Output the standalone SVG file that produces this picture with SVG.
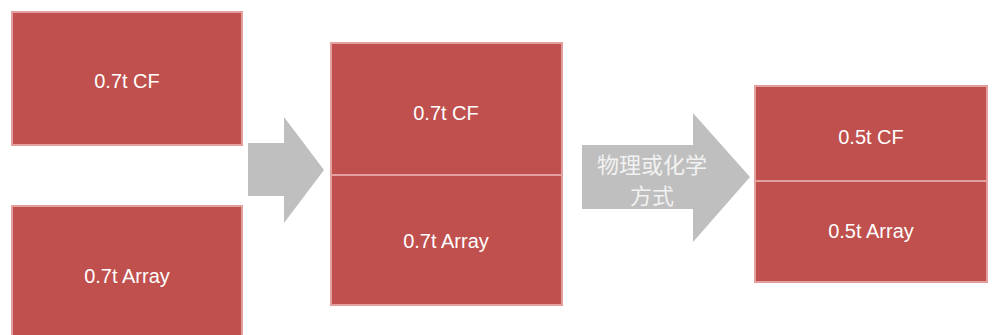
<svg xmlns="http://www.w3.org/2000/svg" width="993" height="335" viewBox="0 0 993 335">
<style>
.box{fill:#C0504D;stroke:#E3A09E;stroke-width:2}
.arr{fill:#BFBFBF}
.t{fill:#FFFFFF;font-family:"Liberation Sans",Arial,sans-serif;font-size:20px;text-anchor:middle}
.c{fill:#F2F2F2;font-family:"Noto Sans CJK SC",sans-serif;font-size:22px;text-anchor:middle}
</style>
<rect width="993" height="335" fill="#FFFFFF"/>
<g id="connectors">
<polygon class="arr" points="248,143 284,143 284,117 324,170 284,223 284,196 248,196"/>
<polygon class="arr" points="582,145 693,145 693,113 750,177 693,242 693,209 582,209"/>
<text class="c" x="652" y="173">物理或化学</text>
<text class="c" x="652" y="204">方式</text>
</g>
<g id="cf1">
<rect class="box" x="12" y="12" width="230" height="133"/>
<text class="t" x="127" y="88">0.7t CF</text>
</g>
<g id="array1">
<rect class="box" x="12" y="206" width="230" height="140"/>
<text class="t" x="127" y="283">0.7t Array</text>
</g>
<g id="cf2">
<rect class="box" x="331" y="43" width="231" height="132"/>
<text class="t" x="446" y="120">0.7t CF</text>
</g>
<g id="array2">
<rect class="box" x="331" y="175" width="231" height="130"/>
<text class="t" x="446" y="248">0.7t Array</text>
</g>
<g id="cf3">
<rect class="box" x="755" y="86" width="232" height="95"/>
<text class="t" x="871" y="144">0.5t CF</text>
</g>
<g id="array3">
<rect class="box" x="755" y="181" width="232" height="101"/>
<text class="t" x="871" y="238">0.5t Array</text>
</g>
</svg>
